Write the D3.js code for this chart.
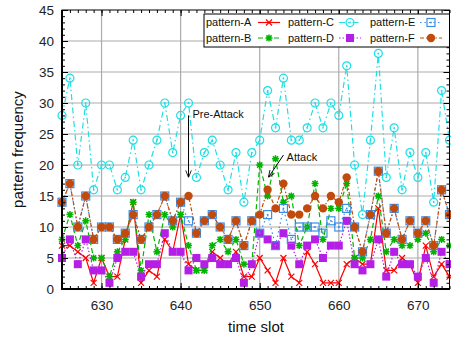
<!DOCTYPE html>
<html>
<head>
<meta charset="utf-8">
<script src="https://cdnjs.cloudflare.com/ajax/libs/d3/7.8.5/d3.min.js"></script>
<style>
body { margin: 0; background: #fff; }
svg { display: block; font-family: "Liberation Sans", Arial, sans-serif; }
</style>
</head>
<body>
<svg width="451" height="337"></svg>
<script>
var slots = [625,626,627,628,629,630,631,632,633,634,635,636,637,638,639,640,641,642,643,644,
	645,646,647,648,649,650,651,652,653,654,655,656,657,658,659,660,661,662,663,664,
	665,666,667,668,669,670,671,672,673,674];

var patternA = [7,7,6,5,1,5,2,2,8,14, 1,3,2,8,6,12,4,3,3,6, 5,4,6,2,2,5,3,1,5,2, 1,6,4,1,1,1,4,5,4,4, 13,3,3,5,4,1,7,2,4,2];
var patternB = [8,12,7,11,5,5,2,6,8,14, 3,12,6,12,10,12,7,3,3,7, 8,6,8,4,4,20,15,21,14,15, 7,10,17,8,13,13,17,5,5,8, 15,6,8,7,7,8,9,6,8,7];
var patternC = [28,34,20,30,16,20,20,16,18,24, 16,20,24,30,22,28,30,18,22,24, 20,16,22,14,22,24,32,26,34,24, 24,26,30,26,30,28,36,20,12,24, 38,18,26,16,22,18,22,14,32,24];
var patternD = [5,8,4,8,3,3,1,5,6,6, 2,4,4,9,6,6,3,5,4,5, 4,4,5,1,4,9,8,7,9,7, 4,7,8,5,7,7,11,4,3,4, 8,2,6,4,4,2,5,1,6,4];
var patternE = [14,17,10,15,8,10,10,8,9,12, 8,10,12,15,11,14,11,9,11,12, 10,8,11,7,11,9,12,7,13,8, 10,10,10,9,11,10,13,10,6,12, 19,9,13,8,11,9,11,7,16,12];
var patternF = [14,17,10,15,8,10,10,8,9,12, 8,10,12,15,11,14,15,9,11,12, 10,8,11,7,11,12,16,13,17,12, 12,13,15,13,15,14,18,10,6,12, 19,9,13,8,11,9,11,7,16,12];

var seriesNames = ["pattern-A", "pattern-B", "pattern-C", "pattern-D", "pattern-E", "pattern-F"];
var yTicks = [0,5,10,15,20,25,30,35,40,45];
var xTicks = [630,640,650,660,670];

// annotations in data coords: label pos, arrow from, arrow to
var notes = [
	{text: "Pre-Attack", at: [641.5, 28.2], from: [641, 28], to: [641, 18]},
	{text: "Attack", at: [653.4, 21.2], from: [653, 21.6], to: [651.1, 18]}
];

var styles = [
	{color: "#ff0000", dash: null, mark: "x"},
	{color: "#00b400", dash: "5,3", mark: "star"},
	{color: "#1fdfe6", dash: "6,3,1.5,3", mark: "circle"},
	{color: "#b51ee6", dash: "1.5,2", mark: "fsquare"},
	{color: "#3a8ee8", dash: "1.5,3", mark: "square"},
	{color: "#c24a0c", dash: "4,2,1.5,2", mark: "fcircle"}
];
var allSeries = [patternA, patternB, patternC, patternD, patternE, patternF];

var svg = d3.select("svg"),
	pLeft = 62, pRight = 449.5, pTop = 10, pBottom = 289;

var x = d3.scaleLinear().domain([625, 674]).range([pLeft, pRight]);
var y = d3.scaleLinear().domain([0, 45]).range([pBottom, pTop]);

// grid
var grid = svg.append("g").attr("class", "grid");
grid.selectAll(".gy").data(yTicks.slice(1, -1)).enter().append("line")
	.attr("x1", pLeft).attr("x2", pRight)
	.attr("y1", function(d) { return y(d); }).attr("y2", function(d) { return y(d); })
	.attr("stroke", "#acacac").attr("stroke-width", 1.2);
grid.selectAll(".gx").data(xTicks).enter().append("line")
	.attr("y1", pTop).attr("y2", pBottom)
	.attr("x1", function(d) { return x(d); }).attr("x2", function(d) { return x(d); })
	.attr("stroke", "#acacac").attr("stroke-width", 1.2);

function drawMark(g, type, color) {
	if (type == "x") {
		g.append("path").attr("d", "M-3,-3L3,3M-3,3L3,-3").attr("stroke", color).attr("stroke-width", 1.2).attr("fill", "none");
	} else if (type == "star") {
		g.append("path").attr("d", "M-3.5,0L3.5,0M0,-3.5L0,3.5M-2.6,-2.6L2.6,2.6M-2.6,2.6L2.6,-2.6")
			.attr("stroke", color).attr("stroke-width", 1.5).attr("fill", "none");
	} else if (type == "circle") {
		g.append("circle").attr("r", 4).attr("fill", "none").attr("stroke", color).attr("stroke-width", 1.2);
		g.append("circle").attr("r", 0.9).attr("fill", color);
	} else if (type == "fsquare") {
		g.append("rect").attr("x", -4).attr("y", -4).attr("width", 8).attr("height", 8).attr("fill", color);
	} else if (type == "square") {
		g.append("rect").attr("x", -4).attr("y", -4).attr("width", 8).attr("height", 8)
			.attr("fill", "none").attr("stroke", color).attr("stroke-width", 1.2);
		g.append("circle").attr("r", 0.9).attr("fill", color);
	} else if (type == "fcircle") {
		g.append("circle").attr("r", 4.2).attr("fill", color);
	}
}

var line = d3.line()
	.x(function(d, i) { return x(slots[i]); })
	.y(function(d) { return y(d); });

var plot = svg.append("g").attr("class", "series");
allSeries.forEach(function(values, k) {
	var st = styles[k];
	var g = plot.append("g");
	g.append("path").datum(values)
		.attr("d", line)
		.attr("fill", "none")
		.attr("stroke", st.color)
		.attr("stroke-width", 1.2)
		.attr("stroke-dasharray", st.dash);
	g.selectAll(".pt").data(values).enter().append("g")
		.attr("transform", function(d, i) { return "translate(" + x(slots[i]) + "," + y(d) + ")"; })
		.each(function() { drawMark(d3.select(this), st.mark, st.color); });
});

// axes (ticks inside, mirrored)
function styleAxis(g) {
	g.select(".domain").remove();
	g.selectAll("line").attr("stroke", "#000").attr("stroke-width", 1);
	g.selectAll("text").attr("fill", "#222").style("font-size", "13.5px").style("font-family", "Liberation Sans, Arial, sans-serif");
}
svg.append("g").attr("transform", "translate(" + pLeft + ",0)")
	.call(d3.axisLeft(y).tickValues(d3.range(0, 46, 1)).tickSize(-3).tickFormat("")).call(styleAxis);
svg.append("g").attr("transform", "translate(" + pLeft + ",0)")
	.call(d3.axisLeft(y).tickValues(yTicks).tickSize(-6).tickPadding(8)).call(styleAxis);
svg.append("g").attr("transform", "translate(" + pRight + ",0)")
	.call(d3.axisRight(y).tickValues(d3.range(0, 46, 1)).tickSize(-3).tickFormat("")).call(styleAxis);
svg.append("g").attr("transform", "translate(" + pRight + ",0)")
	.call(d3.axisRight(y).tickValues(yTicks).tickSize(-6).tickFormat("")).call(styleAxis);
svg.append("g").attr("transform", "translate(0," + pBottom + ")")
	.call(d3.axisBottom(x).tickValues(slots).tickSize(-3).tickFormat("")).call(styleAxis);
svg.append("g").attr("transform", "translate(0," + pBottom + ")")
	.call(d3.axisBottom(x).tickValues(xTicks).tickSize(-6).tickPadding(11).tickFormat(d3.format("d"))).call(styleAxis);
svg.append("g").attr("transform", "translate(0," + pTop + ")")
	.call(d3.axisTop(x).tickValues(slots).tickSize(-3).tickFormat("")).call(styleAxis);
svg.append("g").attr("transform", "translate(0," + pTop + ")")
	.call(d3.axisTop(x).tickValues(xTicks).tickSize(-6).tickFormat("")).call(styleAxis);

// border
svg.append("rect").attr("x", pLeft).attr("y", pTop).attr("width", pRight - pLeft).attr("height", pBottom - pTop)
	.attr("fill", "none").attr("stroke", "#000").attr("stroke-width", 1);
svg.append("path").attr("d", "M" + pLeft + "," + pTop + "V" + pBottom + "H" + pRight)
	.attr("fill", "none").attr("stroke", "#000").attr("stroke-width", 2);

// axis titles
svg.append("text").attr("x", 256).attr("y", 332).attr("text-anchor", "middle")
	.style("font-size", "15px").attr("fill", "#111").text("time slot");
svg.append("text").attr("transform", "translate(23," + ((pTop + pBottom) / 2) + ") rotate(-90)")
	.attr("text-anchor", "middle").style("font-size", "15px").attr("fill", "#111").text("pattern frequency");

// annotations
svg.append("defs").append("marker")
	.attr("id", "arrow").attr("viewBox", "0 -5 10 10")
	.attr("refX", 10).attr("refY", 0)
	.attr("markerWidth", 7).attr("markerHeight", 7)
	.attr("markerUnits", "userSpaceOnUse")
	.attr("orient", "auto")
	.append("path").attr("d", "M0,-4L10,0L0,4").attr("fill", "none").attr("stroke", "#000").attr("stroke-width", 1.2);

var ann = svg.append("g").attr("class", "notes");
notes.forEach(function(n) {
	ann.append("line")
		.attr("x1", x(n.from[0])).attr("y1", y(n.from[1]))
		.attr("x2", x(n.to[0])).attr("y2", y(n.to[1]))
		.attr("stroke", "#000").attr("stroke-width", 1)
		.attr("marker-end", "url(#arrow)");
	ann.append("text").attr("x", x(n.at[0])).attr("y", y(n.at[1])).attr("dy", "0.35em")
		.style("font-size", "11px").attr("fill", "#111").text(n.text);
});

// legend
var legend = svg.append("g").attr("class", "legend");
legend.append("rect").attr("x", 204).attr("y", 14).attr("width", pRight - 204).attr("height", 33)
	.attr("fill", "#fff").attr("stroke", "#000").attr("stroke-width", 1);
seriesNames.forEach(function(name, k) {
	var col = Math.floor(k / 2), row = k % 2;
	var tx = 206 + col * 82, cx = 269 + col * 81, cy = 22.5 + row * 15.5;
	var st = styles[k];
	legend.append("text").attr("x", tx).attr("y", cy).attr("dy", "0.35em")
		.style("font-size", "11px").attr("fill", "#111").text(name);
	legend.append("line").attr("x1", cx - 11).attr("x2", cx + 11).attr("y1", cy).attr("y2", cy)
		.attr("stroke", st.color).attr("stroke-width", 1.2).attr("stroke-dasharray", st.dash);
	drawMark(legend.append("g").attr("transform", "translate(" + cx + "," + cy + ")"), st.mark, st.color);
});
</script>
</body>
</html>
